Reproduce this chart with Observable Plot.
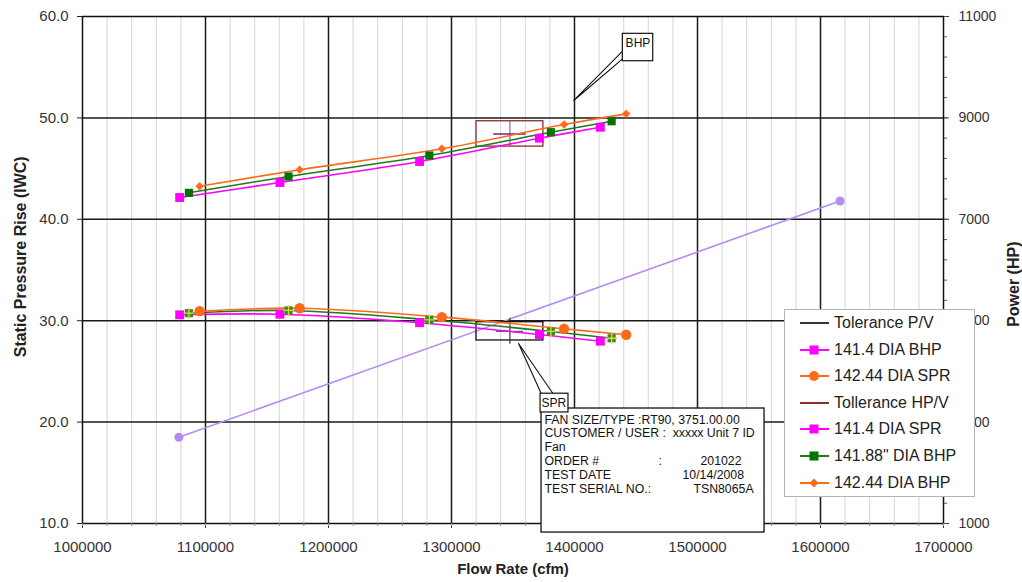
<!DOCTYPE html>
<html><head><meta charset="utf-8">
<script src="https://cdn.jsdelivr.net/npm/d3@7"></script>
<script src="https://cdn.jsdelivr.net/npm/@observablehq/plot@0.6"></script>
<style>
body{margin:0;background:#fff;}
#wrap{position:relative;width:1022px;height:582px;font-family:"Liberation Sans",Arial,sans-serif;}
#legend{position:absolute;left:784px;top:309px;width:191px;height:188px;background:#fff;border:1px solid #b4b4b4;box-sizing:border-box;}
.entry{position:absolute;left:12px;height:24px;display:flex;align-items:center;font-size:16px;color:#222;white-space:nowrap;}
.entry svg{margin-right:3px;}
</style></head><body><div id="wrap"></div>
<script>
// ---------- data ----------
const flow141_4  = [1079000, 1160500, 1274000, 1371500, 1421000];
const flow141_88 = [1086500, 1167500, 1282000, 1380800, 1430200];
const flow142_44 = [1095200, 1176500, 1292100, 1391500, 1442000];

const spr141_4  = [30.58, 30.64, 29.80, 28.64, 27.98];
const spr141_88 = [30.74, 31.01, 30.09, 28.94, 28.27];
const spr142_44 = [30.94, 31.23, 30.35, 29.20, 28.61];

const bhp141_4  = [7430, 7726, 8140, 8600, 8816];
const bhp141_88 = [7522, 7844, 8258, 8718, 8934];
const bhp142_44 = [7652, 7976, 8390, 8870, 9080];

const systemFlow = [1078300, 1615900];
const systemSpr  = [18.5, 41.8];

const tolFlow = 1347500, tolFlowHalf = 27200, tolCrossHalf = 11000;
const tolSpr = 28.95, tolSprHalf = 0.9, tolSprBar = 1.28;
const tolBhp = 8684, tolBhpHalf = 250;

const xMajor = [1000000, 1100000, 1200000, 1300000, 1400000, 1500000, 1600000, 1700000];
const xMinor = d3.range(1000000, 1700001, 20000);
const yLeftTicks = [10, 20, 30, 40, 50, 60];
const hpTicks = [1000, 3000, 5000, 7000, 9000, 11000];
const hpMinor = d3.range(1000, 11001, 400);

const legendLabels  = ["Tolerance P/V", "141.4 DIA BHP", "142.44 DIA SPR", "Tollerance HP/V", "141.4 DIA SPR", "141.88\" DIA BHP", "142.44 DIA BHP"];
const legendColors  = ["#333333", "#ff00ff", "#ff6a1a", "#8b3030", "#ff00ff", "#1f7a1f", "#ff6a1a"];
const legendMarkers = [null, "square", "circle", null, "square", "square", "diamond"];
const legendMarkerFill = [null, "#ff00ff", "#ff6a1a", null, "#ff00ff", "#007300", "#ff6a1a"];

const infoLines = ["FAN SIZE/TYPE :RT90, 3751.00.00", "CUSTOMER / USER :  xxxxx Unit 7 ID", "Fan", "ORDER #", "TEST DATE", "TEST SERIAL NO.:"];
const infoValues = [":", "201022", "10/14/2008", "TSN8065A"];

// annotation positions (data units)
const infoBox = {x1: 1373200, x2: 1554500, y1: 21.34, y2: 9.11};
const infoX = 1375600;
const infoY = [20.25, 18.90, 17.55, 16.15, 14.77, 13.40];
const infoValX = [1468300, 1502400, 1487800, 1496700];
const infoValY = [16.15, 16.15, 14.77, 13.40];
const sprBox = {x1: 1372400, x2: 1395100, y1: 22.80, y2: 20.95};
const sprLabel = {x: 1383300, y: 21.90, text: "SPR"};
const sprWedge = [[1354500, 27.75], [1373200, 22.75], [1382900, 22.75], [1354500, 27.75]];
const bhpBox = {x1: 1439300, x2: 1464000, y1: 58.29, y2: 55.59};
const bhpLabel = {x: 1451600, y: 57.35, text: "BHP"};
const bhpWedge = [[1399400, 51.72], [1439300, 56.6], [1439300, 55.85], [1399400, 51.72]];

// ---------- helpers ----------
const hpToY = hp => 10 + (hp - 1000) / 200;
const yToHp = y => 1000 + (y - 10) * 200;
const rows = (flows, vals, conv = v => v) => flows.map((f, i) => ({x: f, y: conv(vals[i])}));

const s141_4 = rows(flow141_4, spr141_4);
const s141_88 = rows(flow141_88, spr141_88);
const s142_44 = rows(flow142_44, spr142_44);
const b141_4 = rows(flow141_4, bhp141_4, hpToY);
const b141_88 = rows(flow141_88, bhp141_88, hpToY);
const b142_44 = rows(flow142_44, bhp142_44, hpToY);
const sys = rows(systemFlow, systemSpr);

const C = {mag: "#ff00ff", orange: "#ff6a1a", green: "#1f7a1f", greenSq: "#007300", lav: "#b48cf0", red: "#8b2a2a"};
const font = "'Liberation Sans', Arial, sans-serif";

const plot = Plot.plot({
  width: 1022, height: 582,
  marginLeft: 82, marginRight: 79, marginTop: 16, marginBottom: 59,
  style: {fontFamily: font, background: "#fff", color: "#333"},
  x: {type: "linear", domain: [1000000, 1700000], axis: null},
  y: {type: "linear", domain: [10, 60], axis: null},
  marks: [
    Plot.ruleX(xMinor.filter(v => v % 100000 !== 0), {stroke: "#d6d6d6", strokeWidth: 1}),
    Plot.ruleX(xMajor.slice(1, -1), {stroke: "#1a1a1a", strokeWidth: 1.5}),
    Plot.ruleY(yLeftTicks.slice(1, -1), {stroke: "#1a1a1a", strokeWidth: 1.5}),
    Plot.frame({stroke: "#111", strokeWidth: 1.5}),
    Plot.axisY(yLeftTicks, {anchor: "left", tickSize: 5, tickPadding: 9, fontSize: 15, tickFormat: d => d.toFixed(1), stroke: "#222", fill: "#333"}),
    Plot.axisY(hpTicks.map(hpToY), {anchor: "right", tickSize: 5, tickPadding: 10, fontSize: 14, tickFormat: d => String(Math.round(yToHp(d))), fill: "#333"}),
    Plot.axisY(hpMinor.map(hpToY), {anchor: "right", tickSize: 3, tickFormat: () => "", stroke: "#555"}),
    Plot.axisX(xMajor, {anchor: "bottom", tickSize: 5, tickPadding: 13, fontSize: 15, tickFormat: d => String(d), fill: "#333"}),
    Plot.axisX(xMinor, {anchor: "bottom", tickSize: 3, tickFormat: () => "", stroke: "#888"}),
    // axis titles
    Plot.text(["Static Pressure Rise (IWC)"], {frameAnchor: "left", y: 36.3, dx: -62, rotate: -90, textAnchor: "middle", fontSize: 16, fontWeight: "bold", fill: "#222"}),
    Plot.text(["Power (HP)"], {frameAnchor: "right", y: 33.6, dx: 70, rotate: -90, textAnchor: "middle", fontSize: 16, fontWeight: "bold", fill: "#222"}),
    Plot.text(["Flow Rate (cfm)"], {frameAnchor: "bottom", dy: 50, fontSize: 15, fontWeight: "bold", fill: "#222"}),
    // system curve
    Plot.line(sys, {x: "x", y: "y", stroke: C.lav, strokeWidth: 1.6}),
    Plot.dot(sys, {x: "x", y: "y", r: 4.5, fill: C.lav}),
    // tolerance boxes
    Plot.rect([0], {x1: tolFlow - tolFlowHalf, x2: tolFlow + tolFlowHalf, y1: tolSpr - tolSprHalf, y2: tolSpr + tolSprHalf, stroke: "#111", strokeWidth: 1.3, fill: "none"}),
    Plot.ruleX([tolFlow], {y1: tolSpr - tolSprBar, y2: tolSpr + tolSprBar, stroke: "#333", strokeWidth: 1.2}),
    Plot.ruleY([tolSpr], {x1: tolFlow - tolCrossHalf, x2: tolFlow + tolCrossHalf, stroke: "#555", strokeWidth: 1.2}),
    Plot.rect([0], {x1: tolFlow - tolFlowHalf, x2: tolFlow + tolFlowHalf, y1: hpToY(tolBhp - tolBhpHalf), y2: hpToY(tolBhp + tolBhpHalf), stroke: C.red, strokeWidth: 1.3, fill: "none"}),
    Plot.ruleX([tolFlow], {y1: hpToY(tolBhp - tolBhpHalf), y2: hpToY(tolBhp + tolBhpHalf), stroke: "#8a6a8a", strokeWidth: 1.2}),
    Plot.ruleY([hpToY(tolBhp)], {x1: tolFlow - tolCrossHalf * 1.2, x2: tolFlow + tolCrossHalf * 1.2, stroke: "#7a207a", strokeWidth: 1.5}),
    // series lines
    Plot.line(b141_4, {x: "x", y: "y", stroke: C.mag, strokeWidth: 1.6, curve: "catmull-rom"}),
    Plot.line(b141_88, {x: "x", y: "y", stroke: C.green, strokeWidth: 1.6, curve: "catmull-rom"}),
    Plot.line(b142_44, {x: "x", y: "y", stroke: C.orange, strokeWidth: 1.6, curve: "catmull-rom"}),
    Plot.line(s141_4, {x: "x", y: "y", stroke: C.mag, strokeWidth: 1.6, curve: "catmull-rom"}),
    Plot.line(s141_88, {x: "x", y: "y", stroke: C.green, strokeWidth: 1.6, curve: "catmull-rom"}),
    Plot.line(s142_44, {x: "x", y: "y", stroke: C.orange, strokeWidth: 1.6, curve: "catmull-rom"}),
    // markers
    Plot.dot(b141_4, {x: "x", y: "y", symbol: "square", r: 5, fill: C.mag}),
    Plot.dot(b141_88, {x: "x", y: "y", symbol: "square", r: 4.6, fill: C.greenSq}),
    Plot.dot(b142_44, {x: "x", y: "y", symbol: "diamond2", r: 3.8, fill: C.orange}),
    Plot.dot(s141_4, {x: "x", y: "y", symbol: "square", r: 5, fill: C.mag}),
    Plot.dot(s141_88, {x: "x", y: "y", symbol: "square", r: 4.6, fill: "#3a8a1e"}),
    Plot.dot(s141_88, {x: "x", y: "y", symbol: "plus", r: 3.6, stroke: "#e6d24a", strokeWidth: 1.3}),
    Plot.dot(s142_44, {x: "x", y: "y", symbol: "circle", r: 5.2, fill: C.orange}),
    // info box
    Plot.rect([infoBox], {x1: "x1", x2: "x2", y1: "y1", y2: "y2", fill: "#fff", stroke: "#111", strokeWidth: 1.3}),
    Plot.text(infoLines, {x: infoX, y: (d, i) => infoY[i], text: d => d, textAnchor: "start", fontSize: 12.3, fill: "#111"}),
    Plot.text(infoValues, {x: (d, i) => infoValX[i], y: (d, i) => infoValY[i], text: d => d, textAnchor: "start", fontSize: 12.3, fill: "#111"}),
    // callouts
    Plot.line(sprWedge, {x: d => d[0], y: d => d[1], stroke: "#111", strokeWidth: 1.1, fill: "#fff"}),
    Plot.rect([sprBox], {x1: "x1", x2: "x2", y1: "y1", y2: "y2", fill: "#fff", stroke: "#111", strokeWidth: 1.2}),
    Plot.text([sprLabel], {x: "x", y: "y", text: "text", fontSize: 12, fill: "#111"}),
    Plot.line(bhpWedge, {x: d => d[0], y: d => d[1], stroke: "#111", strokeWidth: 1.1, fill: "#fff"}),
    Plot.rect([bhpBox], {x1: "x1", x2: "x2", y1: "y1", y2: "y2", fill: "#fff", stroke: "#111", strokeWidth: 1.2}),
    Plot.text([bhpLabel], {x: "x", y: "y", text: "text", fontSize: 12, fill: "#111"})
  ]
});

const wrap = document.getElementById("wrap");
wrap.appendChild(plot);

// legend
const leg = document.createElement("div");
leg.id = "legend";
legendLabels.forEach((lab, i) => {
  const e = document.createElement("div");
  e.className = "entry";
  e.style.top = (1 + i * 26.6) + "px";
  const c = legendColors[i];
  let m = "";
  const f = legendMarkerFill[i];
  if (legendMarkers[i] === "square") m = `<rect x="12.5" y="7.5" width="9" height="9" fill="${f}"/>`;
  else if (legendMarkers[i] === "circle") m = `<circle cx="17" cy="12" r="5" fill="${f}"/>`;
  else if (legendMarkers[i] === "diamond") m = `<path d="M17 7.5 L21.5 12 L17 16.5 L12.5 12Z" fill="${f}"/>`;
  e.innerHTML = `<svg width="34" height="24"><line x1="3" x2="32" y1="12" y2="12" stroke="${c}" stroke-width="2"/>${m}</svg><span>${lab}</span>`;
  leg.appendChild(e);
});
wrap.appendChild(leg);
</script>
</body></html>
